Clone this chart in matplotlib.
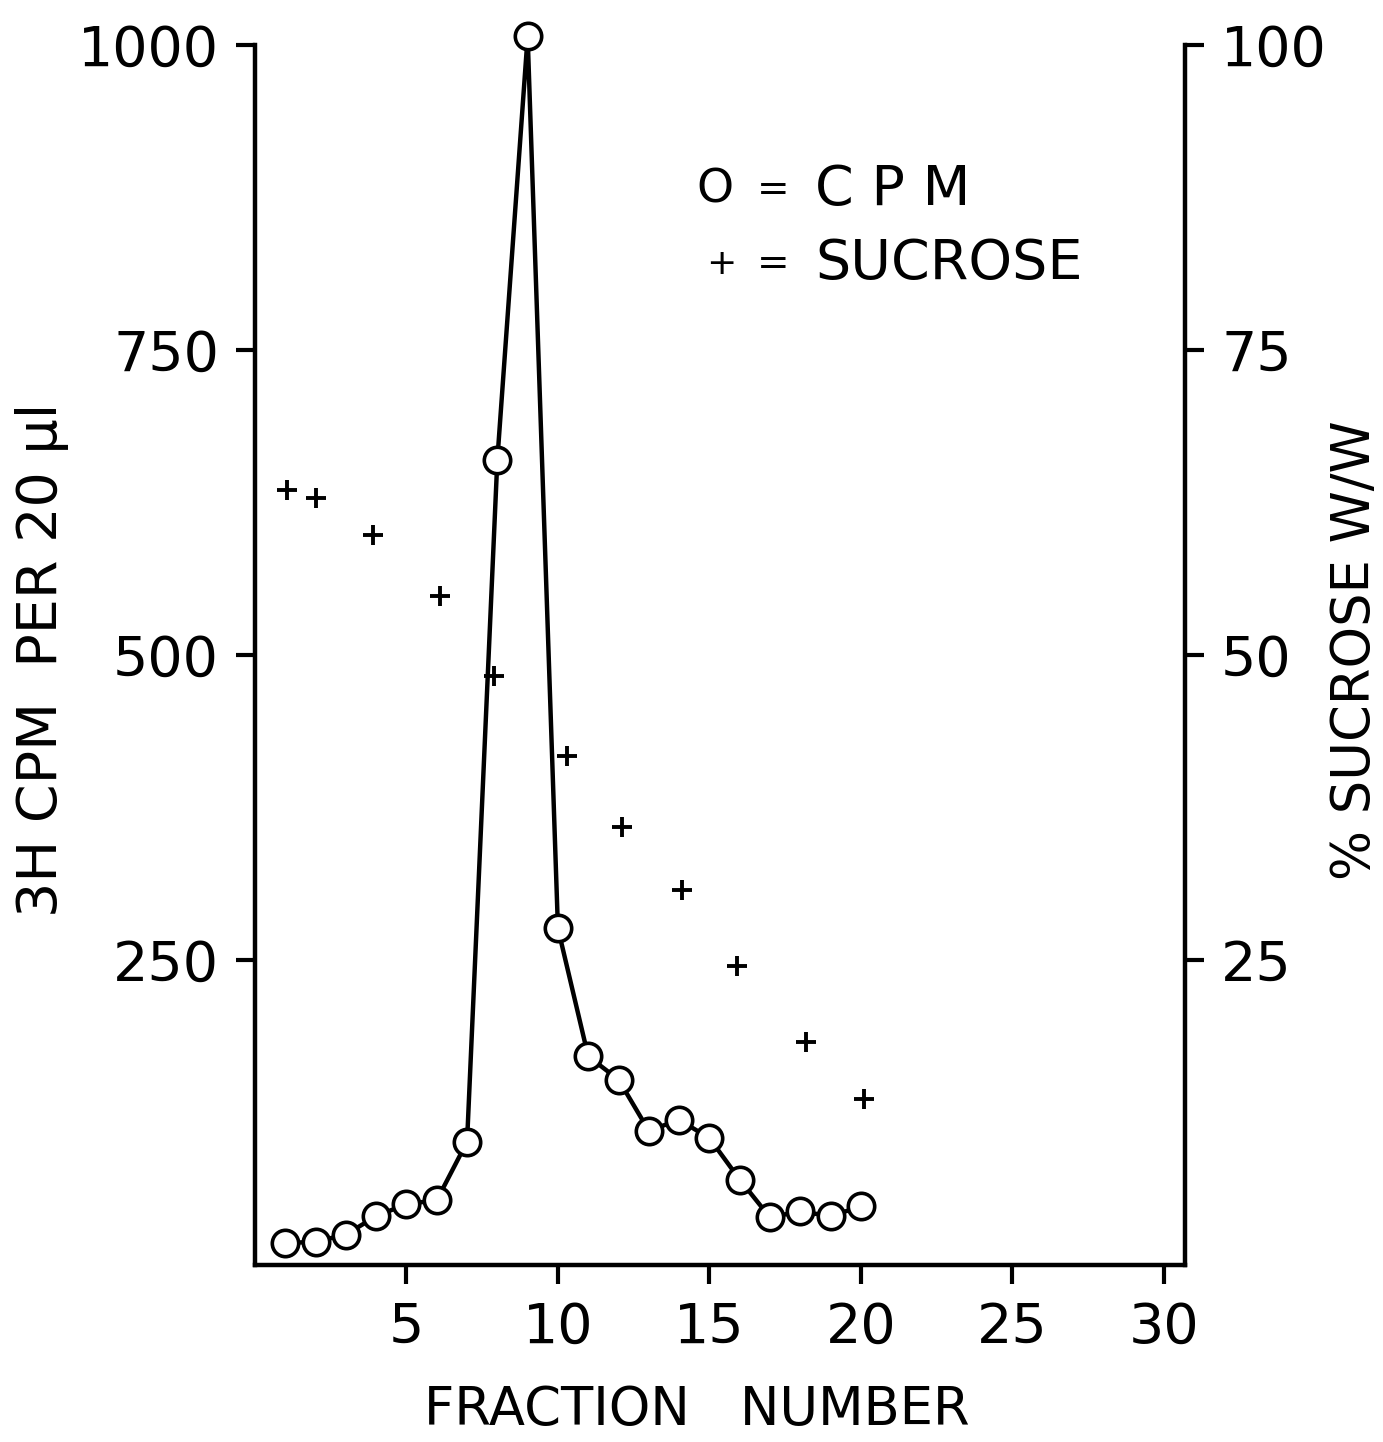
import numpy as np
import matplotlib.pyplot as plt

# fraction number vs 3H CPM (circles joined by a line)
frac_cpm = [1, 2, 3, 4, 5, 6, 7, 8, 9, 10, 11, 12, 13, 14, 15, 16, 17, 18, 19, 20]
cpm = [18, 19, 25, 40, 50, 53, 101, 660, 1007, 276, 171, 152, 110, 119, 104, 70, 39, 44, 40, 48]

# sucrose % w/w (plus signs, right axis)
frac_suc = [1.05, 2.0, 3.9, 6.1, 7.9, 10.3, 12.1, 14.1, 15.9, 18.2, 20.1]
sucrose = [63.5, 62.9, 59.8, 54.8, 48.3, 41.7, 35.9, 30.7, 24.5, 18.3, 13.6]

x_ticks = [5, 10, 15, 20, 25, 30]
left_ticks = [250, 500, 750, 1000]
right_ticks = [25, 50, 75, 100]

plt.rcParams['font.family'] = 'DejaVu Sans'
W, H = 1383, 1442
fig = plt.figure(figsize=(W / 100, H / 100), dpi=100)
ax = fig.add_axes([255 / W, 1 - 1265 / H, (1185 - 255) / W, (1265 - 45) / H])
ax2 = ax.twinx()

ax.plot(frac_cpm, cpm, color='black', lw=3.2, marker='o', ms=19,
        mfc='white', mec='black', mew=2.6, clip_on=False, zorder=3)
ax2.plot(frac_suc, sucrose, ls='none', marker='+', ms=14, mew=2.8,
         color='black', clip_on=False)

ax.set_xlim(0, 30.7)
ax.set_ylim(0, 1000)
ax2.set_ylim(0, 100)

for a in (ax, ax2):
    for s in a.spines.values():
        s.set_linewidth(3.2)
    a.spines['top'].set_visible(False)
ax.spines['right'].set_visible(False)
ax2.spines['left'].set_visible(False)
ax2.spines['bottom'].set_visible(False)

ax.set_xticks(x_ticks)
ax.set_yticks(left_ticks)
ax2.set_yticks(right_ticks)
ax.tick_params(axis='both', direction='out', length=14, width=3,
               labelsize=40, pad=12)
ax2.tick_params(axis='y', direction='out', length=14, width=3,
                labelsize=40, pad=12)

fig.text(697 / W, 1 - 1410 / H, 'FRACTION   NUMBER', fontsize=38,
         ha='center', va='center')
fig.text(42 / W, 1 - 660 / H, '3H CPM  PER 20 μl', fontsize=40,
         ha='center', va='center', rotation=90)
fig.text(1355 / W, 1 - 650 / H, '% SUCROSE W/W', fontsize=38,
         ha='center', va='center', rotation=90)

# legend drawn as text
fig.text(696 / W, 1 - 190 / H, 'O', fontsize=34, va='center')
fig.text(757 / W, 1 - 190 / H, '=', fontsize=28, va='center')
fig.text(815 / W, 1 - 190 / H, 'C P M', fontsize=40, va='center')
fig.text(706 / W, 1 - 264 / H, '+', fontsize=26, va='center')
fig.text(757 / W, 1 - 264 / H, '=', fontsize=28, va='center')
fig.text(815 / W, 1 - 264 / H, 'SUCROSE', fontsize=40, va='center')

fig.savefig('out.png', dpi=100, facecolor='white')
